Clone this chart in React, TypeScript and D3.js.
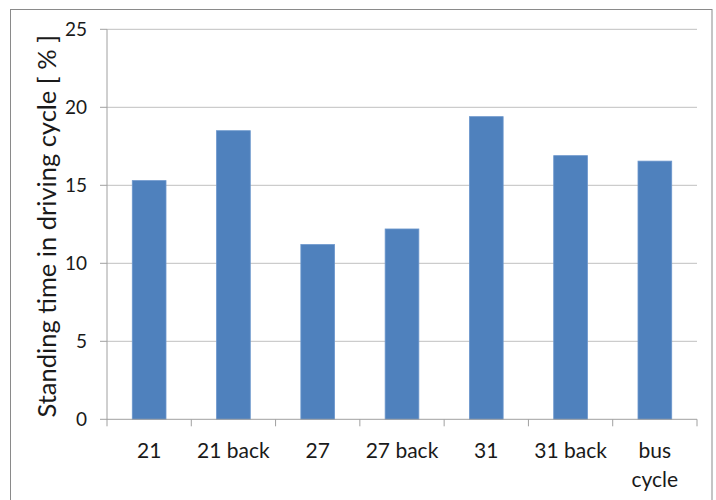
import React from "react";
import * as d3 from "d3";

const categories = ["21", "21 back", "27", "27 back", "31", "31 back", "bus cycle"];
const values = [15.3, 18.5, 11.2, 12.2, 19.4, 16.9, 16.55];
const yTicks = [0, 5, 10, 15, 20, 25];
const yTitle = "Standing time in driving cycle [ % ]";

const W = 716;
const H = 500;
const plot = { left: 107, right: 697, top: 29.3, bottom: 419.3 };
const FONT = "Lato, 'Open Sans', sans-serif";

export default function App() {
  const x = d3
    .scaleBand<string>()
    .domain(categories)
    .range([plot.left, plot.right])
    .paddingInner(0.6)
    .paddingOuter(0.3);
  const band = d3.scaleBand<string>().domain(categories).range([plot.left, plot.right]);
  const y = d3.scaleLinear().domain([0, 25]).range([plot.bottom, plot.top]);

  const tickEdges = categories.map((c) => band(c)!).concat([plot.right]);

  return (
    <svg
      width={W}
      height={H}
      style={{ position: "absolute", left: 0, top: 0, background: "#fff" }}
      fontFamily={FONT}
    >
      <rect x={10.5} y={9.5} width={701.5} height={520} fill="#fff" stroke="#8a8a8a" strokeWidth={1} />
      {yTicks.map((t) => (
        <g key={t}>
          {t > 0 && (
            <line x1={plot.left} x2={plot.right} y1={y(t)} y2={y(t)} stroke="#c0c0c0" strokeWidth={1} />
          )}
          <line x1={plot.left - 7} x2={plot.left} y1={y(t)} y2={y(t)} stroke="#a0a0a0" strokeWidth={1} />
          <text x={87} y={y(t)} dy="0.35em" textAnchor="end" fontSize={19} fill="#1a1a1a">
            {t}
          </text>
        </g>
      ))}
      {categories.map((c, i) => (
        <rect
          key={c}
          x={x(c)}
          y={y(values[i])}
          width={x.bandwidth()}
          height={y(0) - y(values[i])}
          fill="#4F81BD"
          stroke="#6b96cc"
          strokeWidth={0.8}
        />
      ))}
      <line x1={plot.left} x2={plot.left} y1={plot.top} y2={plot.bottom} stroke="#a0a0a0" strokeWidth={1} />
      <line x1={plot.left} x2={plot.right} y1={plot.bottom} y2={plot.bottom} stroke="#a0a0a0" strokeWidth={1} />
      {tickEdges.map((e, i) => (
        <line key={i} x1={e} x2={e} y1={plot.bottom} y2={plot.bottom + 7} stroke="#a0a0a0" strokeWidth={1} />
      ))}
      {categories.map((c) => {
        const cx = band(c)! + band.bandwidth() / 2;
        const parts = c === "bus cycle" ? ["bus", "cycle"] : [c];
        return (
          <text key={c} x={cx} y={458} textAnchor="middle" fontSize={21} fill="#1a1a1a">
            {parts.map((p, j) => (
              <tspan key={j} x={cx} dy={j === 0 ? 0 : 29}>
                {p}
              </tspan>
            ))}
          </text>
        );
      })}
      <text
        transform={`translate(56,${(plot.top + plot.bottom) / 2 + 2}) rotate(-90)`}
        textAnchor="middle"
        fontSize={25.5}
        fill="#1a1a1a"
      >
        {yTitle}
      </text>
    </svg>
  );
}
